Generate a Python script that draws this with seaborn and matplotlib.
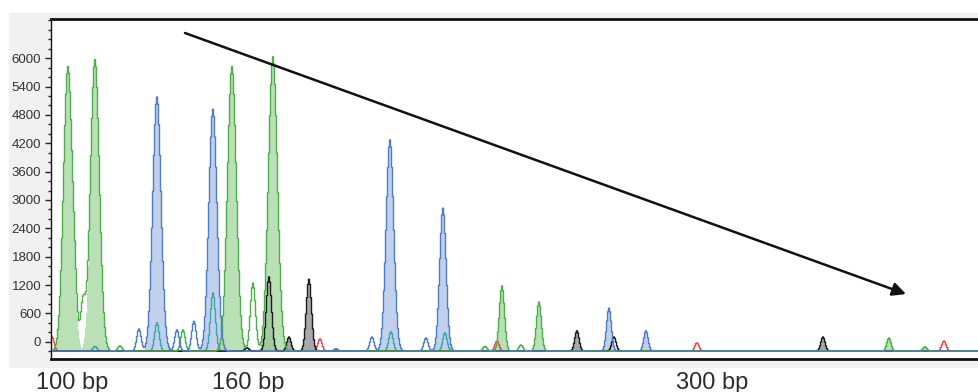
import numpy as np
import pandas as pd
import matplotlib
matplotlib.use("Agg")
import matplotlib.pyplot as plt
import seaborn as sns
from matplotlib.patches import Rectangle

# Electropherogram peaks: centre (scan units) and apex height (RFU on the y scale)
baseline_rfu = -200

green_pos = [17, 44, 181, 222, 451, 488, 838, 874]
green_rfu = [5820, 5970, 5820, 6030, 1180, 840, 80, -110]
green_open_pos = [24, 32, 69, 132, 202, 434, 470]
green_open_rfu = [420, 780, -90, 250, 1240, -100, -70]

blue_pos = [106, 162, 339, 392, 558, 595]
blue_rfu = [5180, 4920, 4270, 2825, 710, 230]
blue_open_pos = [88, 126, 143, 285, 321, 375]
blue_open_rfu = [270, 250, 430, -150, 100, 80]

black_pos = [218, 238, 258, 526, 772]
black_rfu = [1370, 100, 1320, 230, 100]
black_open_pos = [196, 563]
black_open_rfu = [-130, 100]

red_open_pos = [1, 269, 446, 646, 893]
red_open_rfu = [100, 60, 15, -25, 15]

teal_open_pos = [44, 106, 162, 340, 394]
teal_open_rfu = [-100, 400, 1030, 210, 190]

size_labels = ["100 bp", "160 bp", "300 bp"]
size_pos = [21, 197.5, 661.5]

dye_colors = {"red": "#f04848", "teal": "#35aaa4", "black": "#1c1c1c",
              "green": "#4caf4c", "blue": "#4f7cc8"}
fill_colors = {"green": "#a3d69e", "blue": "#adc2e8", "black": "#8c8c8c"}

scan = np.arange(0, 929, 1.0)


def peak(c, h):
    amp = h - baseline_rfu
    width = 2.0 + amp * 0.0004  # tall peaks run broader at the base
    return amp * np.exp(-0.5 * ((scan - c) / width) ** 2)


def trace(pos_lists, rfu_lists):
    y = np.full_like(scan, baseline_rfu)
    for pos, rfu in zip(pos_lists, rfu_lists):
        for c, h in zip(pos, rfu):
            y = y + peak(c, h)
    return y


traces = {
    "red": trace([red_open_pos], [red_open_rfu]),
    "teal": trace([teal_open_pos], [teal_open_rfu]),
    "black": trace([black_pos, black_open_pos], [black_rfu, black_open_rfu]),
    "green": trace([green_pos, green_open_pos], [green_rfu, green_open_rfu]),
    "blue": trace([blue_pos, blue_open_pos], [blue_rfu, blue_open_rfu]),
}
df = pd.concat(
    [pd.DataFrame({"scan": scan, "rfu": v, "dye": k}) for k, v in traces.items()],
    ignore_index=True,
)

sns.set_theme(style="white")
plt.rcParams["font.family"] = ["Liberation Sans", "DejaVu Sans"]

fig = plt.figure(figsize=(9.79, 3.92), dpi=100)
fig.patches.append(Rectangle((9 / 979, 1 - 367 / 392), 970 / 979, 354 / 392,
                             transform=fig.transFigure, color="#f1f1f1", zorder=-1))
ax = fig.add_axes([51 / 979, 1 - 359 / 392, 928 / 979, 340 / 392])
ax.set_facecolor("white")

# filled peaks
for dye, pos, rfu in [("black", black_pos, black_rfu),
                      ("blue", blue_pos, blue_rfu),
                      ("green", green_pos, green_rfu)]:
    for c, h in zip(pos, rfu):
        ax.fill_between(scan, baseline_rfu, baseline_rfu + peak(c, h),
                        color=fill_colors[dye], alpha=0.75, linewidth=0, step="mid")

sns.lineplot(data=df, x="scan", y="rfu", hue="dye",
             hue_order=["red", "teal", "black", "green", "blue"],
             palette=dye_colors, estimator=None, sort=False, legend=False,
             linewidth=1.0, drawstyle="steps-mid", ax=ax)

ax.set_xlim(0, 928)
ax.set_ylim(-366, 6830)
ax.set_yticks(np.arange(0, 6001, 600))
ax.set_yticks(np.arange(-200, 6801, 200), minor=True)
ax.set_xticks(size_pos, size_labels)
ax.set_xlabel("")
ax.set_ylabel("")
ax.tick_params(axis="y", which="major", length=4, width=1, color="#222",
               labelsize=9.5, labelcolor="#333", pad=3, left=True)
ax.tick_params(axis="y", which="minor", length=2.5, width=1, color="#222", left=True)
ax.tick_params(axis="x", length=0, pad=9, labelsize=17, labelcolor="#2b2b33")

for side in ["top", "bottom"]:
    ax.spines[side].set_linewidth(2)
    ax.spines[side].set_color("#111")
ax.spines["left"].set_linewidth(1)
ax.spines["left"].set_color("#111")
ax.spines["right"].set_visible(False)

ax.annotate("", xy=(0.9213, 0.191), xytext=(0.1444, 0.9588),
            xycoords="axes fraction", textcoords="axes fraction",
            arrowprops=dict(arrowstyle="-|>", color="#111", lw=1.8,
                            mutation_scale=20, shrinkA=0, shrinkB=0))

fig.savefig("out.png", dpi=100)
